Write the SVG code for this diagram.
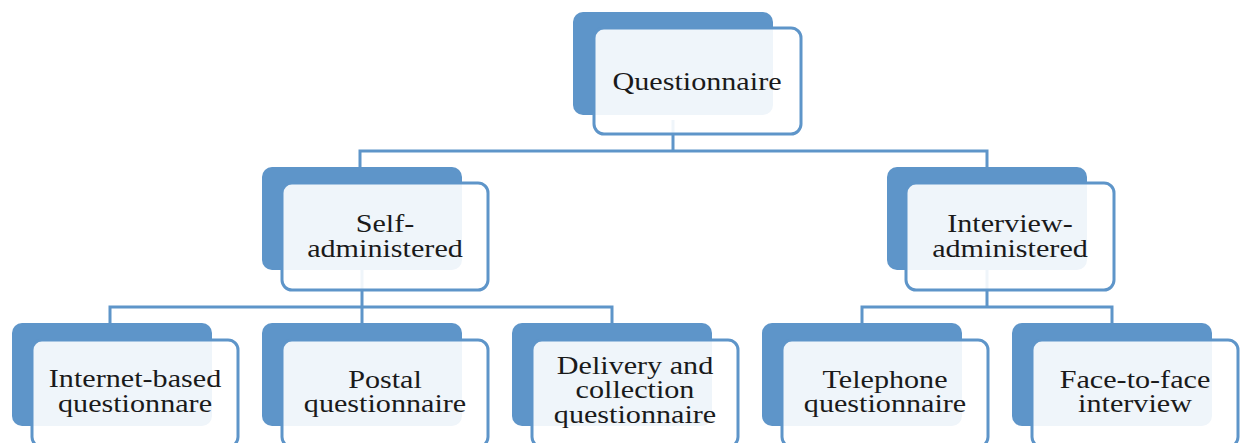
<svg xmlns="http://www.w3.org/2000/svg" width="1248" height="443" viewBox="0 0 1248 443">
<style>
.bg{fill:#ffffff}
.back{fill:#5e95c9}
.front{fill:#ffffff;fill-opacity:0.9;stroke:#5e95c9;stroke-width:3}
.conn{fill:none;stroke:#5e95c9;stroke-width:3;stroke-linejoin:miter}
.lbl{font-family:'Liberation Serif','Times New Roman',Tinos,Times,serif;font-size:26px;fill:#1a1a1a;text-anchor:middle}
</style>
<rect class="bg" x="0" y="0" width="1248" height="443"/>
<g id="connectors">
<path class="conn" d="M673,120 V151 M360,175 V151 H987 V175"/>
<path class="conn" d="M362,250 V307 M110,335 V307 H612 V335 M362,307 V335"/>
<path class="conn" d="M987,250 V307 M862,335 V307 H1112 V335"/>
</g>
<g id="n-questionnaire">
<rect class="back" x="573" y="12" width="200" height="103" rx="10"/>
<rect class="front" x="594" y="28" width="207" height="106" rx="10"/>
<g transform="translate(697,0) scale(1.16,1)"><text class="lbl" font-family="Liberation Serif, serif" x="0" y="90">Questionnaire</text></g>
</g>
<g id="n-self">
<rect class="back" x="262" y="167" width="200" height="103" rx="10"/>
<rect class="front" x="282" y="183" width="206" height="107" rx="10"/>
<g transform="translate(385,0) scale(1.16,1)"><text class="lbl" font-family="Liberation Serif, serif" x="0" y="232">Self-</text><text class="lbl" font-family="Liberation Serif, serif" x="0" y="257">administered</text></g>
</g>
<g id="n-interview">
<rect class="back" x="887" y="167" width="200" height="103" rx="10"/>
<rect class="front" x="906" y="183" width="208" height="107" rx="10"/>
<g transform="translate(1010,0) scale(1.16,1)"><text class="lbl" font-family="Liberation Serif, serif" x="0" y="232">Interview-</text><text class="lbl" font-family="Liberation Serif, serif" x="0" y="257">administered</text></g>
</g>
<g id="n-internet">
<rect class="back" x="12" y="323" width="200" height="103" rx="10"/>
<rect class="front" x="32" y="340" width="206" height="107" rx="10"/>
<g transform="translate(135,0) scale(1.16,1)"><text class="lbl" font-family="Liberation Serif, serif" x="0" y="387">Internet-based</text><text class="lbl" font-family="Liberation Serif, serif" x="0" y="412">questionnare</text></g>
</g>
<g id="n-postal">
<rect class="back" x="262" y="323" width="200" height="103" rx="10"/>
<rect class="front" x="282" y="340" width="206" height="107" rx="10"/>
<g transform="translate(385,0) scale(1.16,1)"><text class="lbl" font-family="Liberation Serif, serif" x="0" y="388">Postal</text><text class="lbl" font-family="Liberation Serif, serif" x="0" y="412">questionnaire</text></g>
</g>
<g id="n-delivery">
<rect class="back" x="512" y="323" width="200" height="103" rx="10"/>
<rect class="front" x="532" y="340" width="206" height="107" rx="10"/>
<g transform="translate(635,0) scale(1.16,1)"><text class="lbl" font-family="Liberation Serif, serif" x="0" y="374">Delivery and</text><text class="lbl" font-family="Liberation Serif, serif" x="0" y="398">collection</text><text class="lbl" font-family="Liberation Serif, serif" x="0" y="423">questionnaire</text></g>
</g>
<g id="n-telephone">
<rect class="back" x="762" y="323" width="200" height="103" rx="10"/>
<rect class="front" x="782" y="340" width="206" height="107" rx="10"/>
<g transform="translate(885,0) scale(1.16,1)"><text class="lbl" font-family="Liberation Serif, serif" x="0" y="388">Telephone</text><text class="lbl" font-family="Liberation Serif, serif" x="0" y="412">questionnaire</text></g>
</g>
<g id="n-facetoface">
<rect class="back" x="1012" y="323" width="200" height="103" rx="10"/>
<rect class="front" x="1032" y="340" width="206" height="107" rx="10"/>
<g transform="translate(1135,0) scale(1.16,1)"><text class="lbl" font-family="Liberation Serif, serif" x="0" y="388">Face-to-face</text><text class="lbl" font-family="Liberation Serif, serif" x="0" y="412">interview</text></g>
</g>
</svg>
